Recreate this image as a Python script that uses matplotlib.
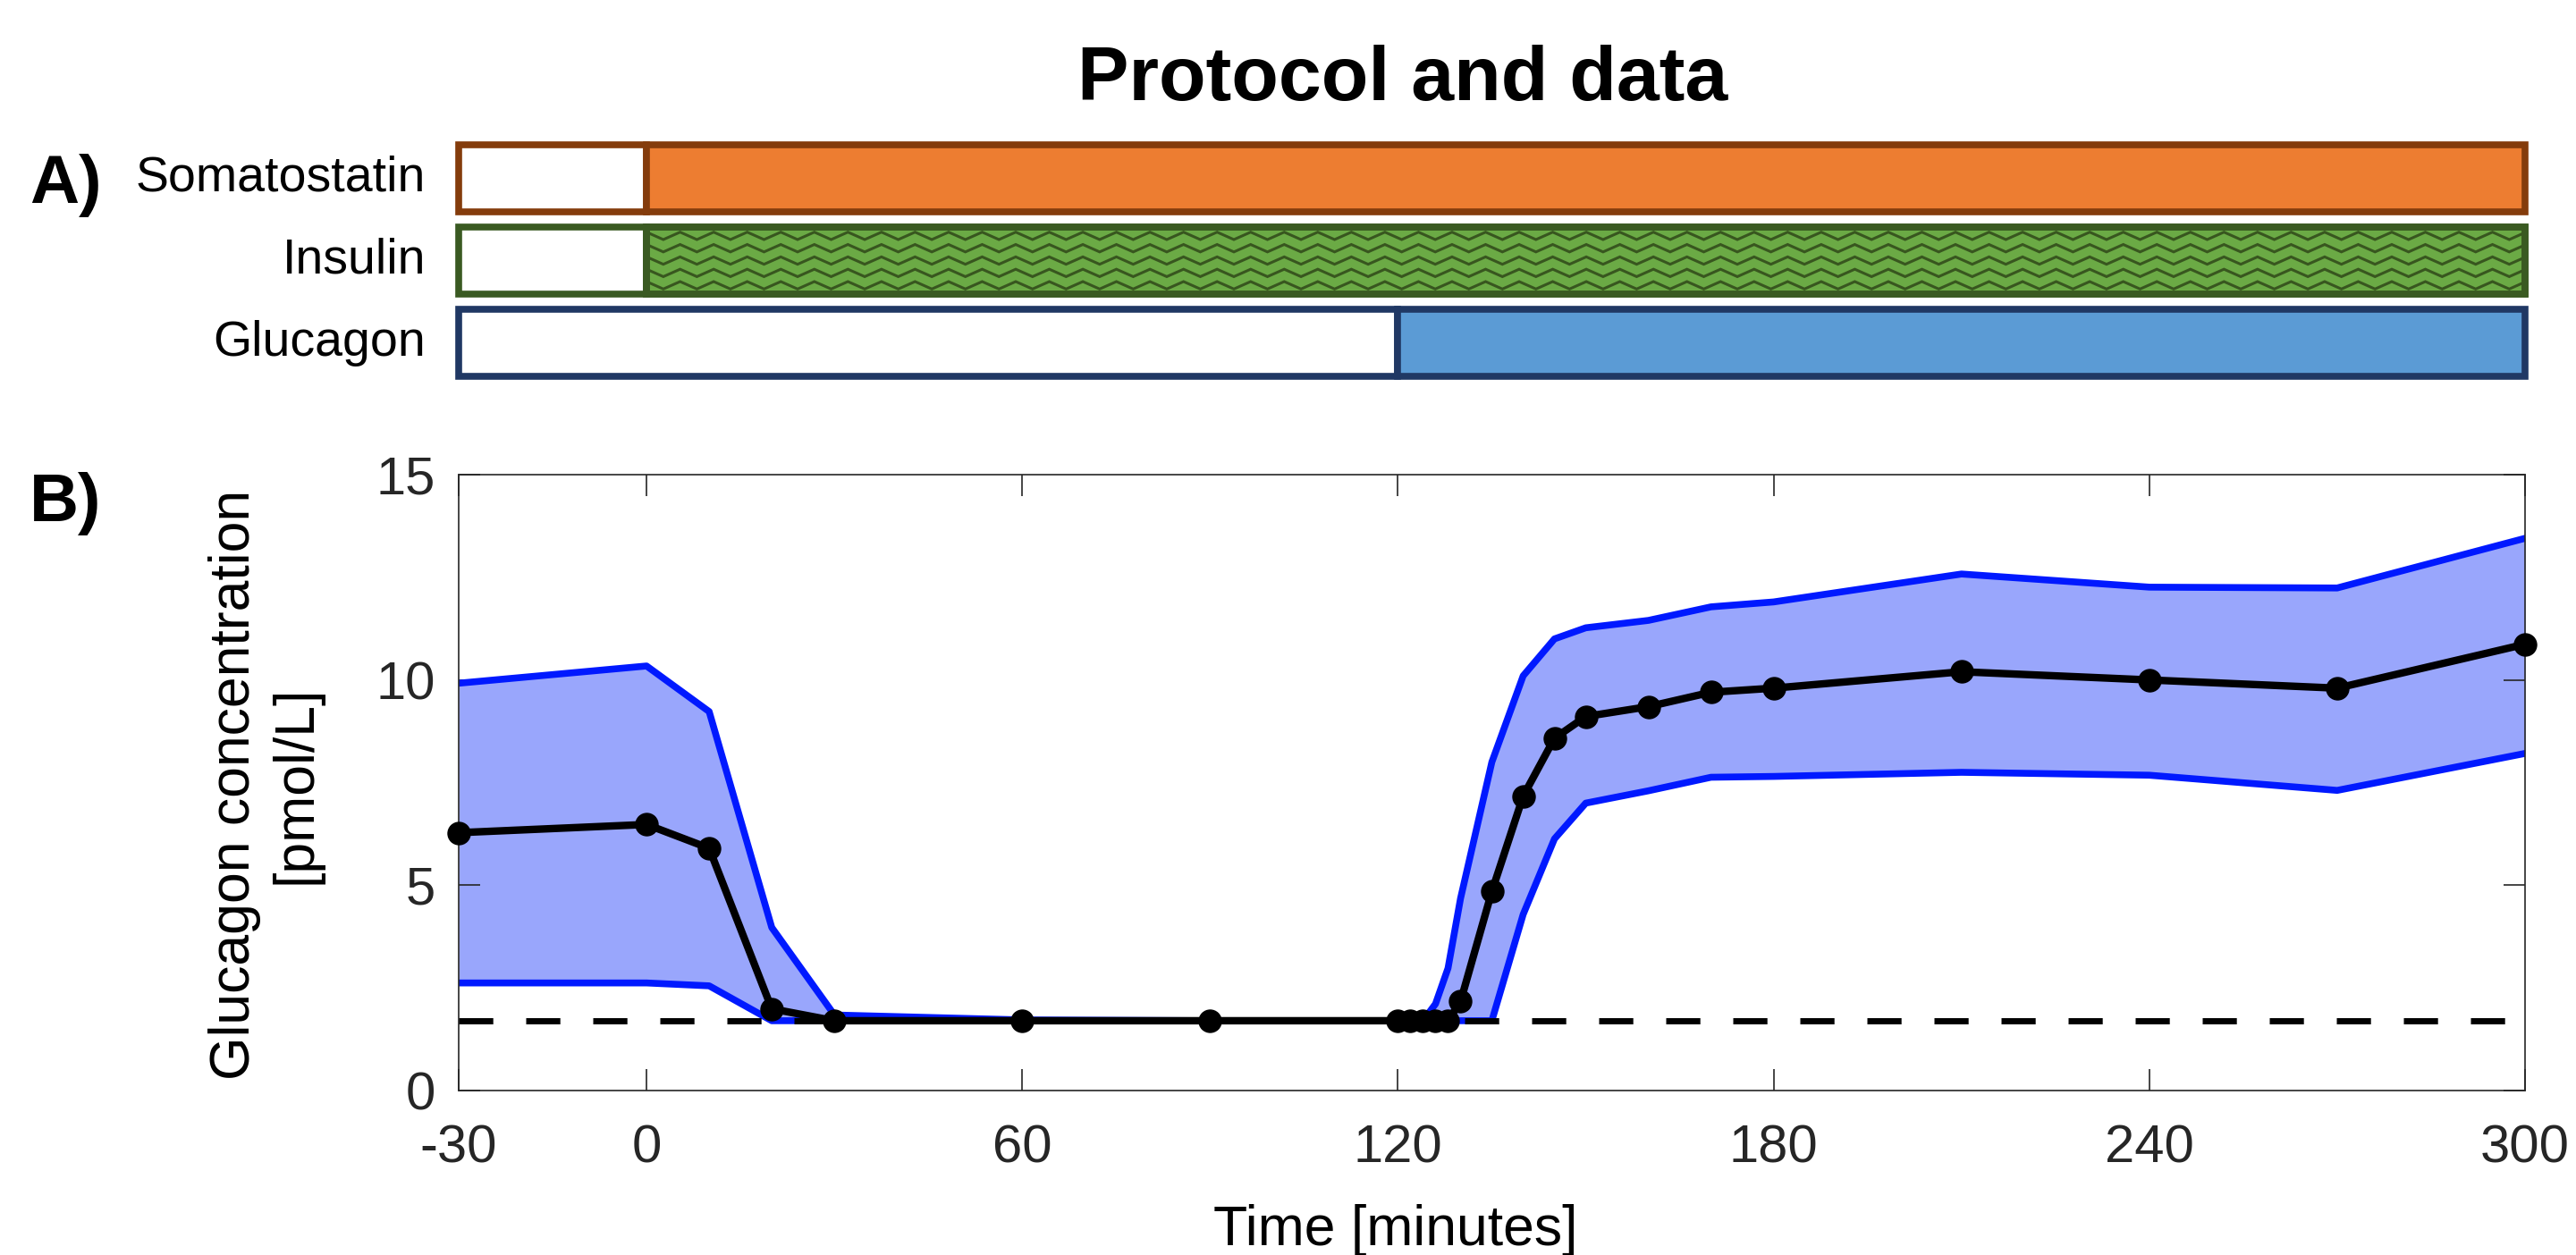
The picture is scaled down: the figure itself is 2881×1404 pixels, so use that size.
import numpy as np
import matplotlib.pyplot as plt
from matplotlib.transforms import blended_transform_factory

plt.rcParams['font.family'] = ['Liberation Sans', 'DejaVu Sans']
plt.rcParams['axes.unicode_minus'] = False

# glucagon data (mean with upper / lower band), time in minutes
time = [-30, 0, 10, 20, 30, 60, 90, 120, 122, 124, 126, 128, 130, 135,
        140, 145, 150, 160, 170, 180, 210, 240, 270, 300]
mean = [6.28, 6.48, 5.90, 1.99, 1.70, 1.70, 1.70, 1.70, 1.70, 1.70, 1.70, 1.70,
        2.17, 4.85, 7.17, 8.58, 9.11, 9.35, 9.70, 9.80, 10.20, 10.00, 9.80, 10.87]
upper = [9.92, 10.34, 9.23, 3.97, 1.84, 1.72, 1.70, 1.70, 1.70, 1.70, 2.11, 2.98,
         4.68, 8.00, 10.10, 11.00, 11.27, 11.45, 11.78, 11.90, 12.58, 12.26, 12.24, 13.45]
lower = [2.62, 2.62, 2.55, 1.70, 1.70, 1.70, 1.70, 1.70, 1.70, 1.70, 1.70, 1.70,
         1.70, 1.70, 4.29, 6.13, 7.00, 7.30, 7.63, 7.65, 7.75, 7.68, 7.31, 8.21]
detection_limit = 1.7

# protocol
infusions = ['Somatostatin', 'Insulin', 'Glucagon']
infusion_start = [0, 0, 120]
infusion_fill = ['#ED7D31', '#6BAA45', '#5B9BD5']
infusion_edge = ['#843C0C', '#3A5A22', '#203864']
t_min, t_max = -30, 300

xticks = [-30, 0, 60, 120, 180, 240, 300]
yticks = [0, 5, 10, 15]

W, H = 2881, 1404
fig = plt.figure(figsize=(W / 100, H / 100), dpi=100)

# ---- A) protocol bars
axb = fig.add_axes([513 / W, (H - 421) / H, 2311 / W, 259 / H])
bar_h = 0.81
edge_lw = 5.5
for i, name in enumerate(infusions):
    axb.barh(i, infusion_start[i] - t_min, left=t_min, height=bar_h, color='white',
             edgecolor=infusion_edge[i], linewidth=edge_lw, clip_on=False)
    bars = axb.barh(i, t_max - infusion_start[i], left=infusion_start[i], height=bar_h,
                    color=infusion_fill[i], edgecolor=infusion_edge[i], linewidth=edge_lw,
                    clip_on=False)
    if name == 'Insulin':
        # zigzag fill pattern
        rect = bars.patches[0]
        xz = np.arange(infusion_start[i], t_max + 5, 5.36 / 2)
        for k in range(-3, 4):
            yz = i + k * 0.15 + np.where(np.arange(len(xz)) % 2 == 0, -0.045, 0.045)
            ln, = axb.plot(xz, yz, color='#38561F', lw=2.2, solid_joinstyle='miter')
            ln.set_clip_path(rect)
        axb.add_patch(plt.Rectangle((infusion_start[i], i - bar_h / 2), t_max - infusion_start[i],
                                    bar_h, fill=False, edgecolor=infusion_edge[i],
                                    linewidth=edge_lw, clip_on=False, zorder=3))
axb.set_xlim(t_min, t_max)
axb.set_ylim(2.405, -0.405)
axb.axis('off')

trans = blended_transform_factory(fig.transFigure, axb.transData)
for i, name in enumerate(infusions):
    axb.text(476 / W, i, name, transform=trans, ha='right', va='center', fontsize=40)

# ---- B) glucagon data
ax = fig.add_axes([513 / W, (H - 1220) / H, 2311 / W, 689 / H])
ax.fill_between(time, lower, upper, color='#99A6FC', linewidth=0, zorder=1)
ax.plot(time, upper, color='#0019FF', lw=5.5, zorder=2)
ax.plot(time, lower, color='#0019FF', lw=5.5, zorder=2)
ax.axhline(detection_limit, color='black', lw=5, dashes=(5.5, 5.3), zorder=3)
ax.plot(time, mean, color='black', lw=6, marker='o', ms=18, zorder=4, clip_on=False)

ax.set_xlim(t_min, t_max)
ax.set_ylim(0, 15)
ax.set_xticks(xticks)
ax.set_yticks(yticks)
for s in ax.spines.values():
    s.set_color('#262626')
    s.set_linewidth(1.2)
ax.tick_params(direction='in', top=True, right=True, length=17, width=1.2,
               color='#262626', labelcolor='#262626', labelsize=43)
ax.tick_params(axis='y', pad=19)
ax.tick_params(axis='x', pad=27)

fig.text(0.103, 1 - 878 / H, 'Glucagon concentration\n[pmol/L]', rotation=90,
         ha='center', va='center', multialignment='center', fontsize=45)
fig.text(1561 / W, 1 - 1393 / H, 'Time [minutes]', ha='center', va='baseline', fontsize=45)

fig.text(1569 / W, 1 - 112 / H, 'Protocol and data', ha='center', va='baseline',
         fontsize=62, fontweight='bold')
fig.text(33 / W, 1 - 227 / H, 'A)', ha='left', va='baseline', fontsize=55, fontweight='bold')
fig.text(33 / W, 1 - 583 / H, 'B)', ha='left', va='baseline', fontsize=55, fontweight='bold')

fig.savefig('out.png', dpi=100)
